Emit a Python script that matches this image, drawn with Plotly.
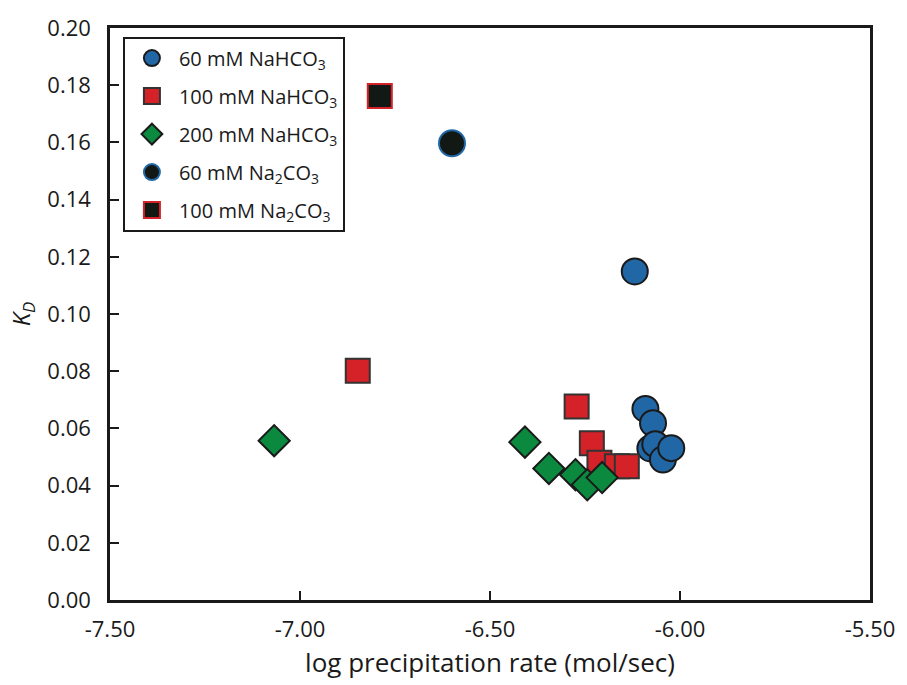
import plotly.graph_objects as go

# 60 mM NaHCO3
x60 = [-6.119, -6.091, -6.071, -6.078, -6.065, -6.045, -6.023]
y60 = [0.1149, 0.0668, 0.0618, 0.0530, 0.0545, 0.0491, 0.0531]
# 100 mM NaHCO3
x100 = [-6.848, -6.272, -6.232, -6.212, -6.166, -6.140]
y100 = [0.0802, 0.0677, 0.0548, 0.0480, 0.0468, 0.0468]
# 200 mM NaHCO3
x200 = [-7.068, -6.408, -6.345, -6.275, -6.244, -6.205]
y200 = [0.0557, 0.0552, 0.0460, 0.0438, 0.0403, 0.0428]
# 60 mM Na2CO3
x60c = [-6.600]
y60c = [0.1597]
# 100 mM Na2CO3
x100c = [-6.790]
y100c = [0.1762]

names = ["60 mM NaHCO<sub>3</sub>", "100 mM NaHCO<sub>3</sub>", "200 mM NaHCO<sub>3</sub>",
         "60 mM Na<sub>2</sub>CO<sub>3</sub>", "100 mM Na<sub>2</sub>CO<sub>3</sub>"]
xticks = [-7.5, -7.0, -6.5, -6.0, -5.5]
xticklabels = ["-7.50", "-7.00", "-6.50", "-6.00", "-5.50"]
yticks = [0.00, 0.02, 0.04, 0.06, 0.08, 0.10, 0.12, 0.14, 0.16, 0.18, 0.20]
yticklabels = ["%.2f" % v for v in yticks]

BLUE = "#2167A6"
RED = "#D52228"
GREEN = "#0B8A3F"
BLACK = "#121813"
EDGE = "#1a1a1a"

fig = go.Figure()
specs = [
    (x60, y60, names[0], "circle", 26, BLUE, EDGE),
    (x100, y100, names[1], "square", 24, RED, "#333333"),
    (x200, y200, names[2], "diamond", 24, GREEN, EDGE),
    (x60c, y60c, names[3], "circle", 26, BLACK, BLUE),
    (x100c, y100c, names[4], "square", 24, BLACK, RED),
]
for i, (xs, ys, nm, sym, sz, fc, lc) in enumerate(specs):
    fig.add_trace(go.Scatter(
        x=xs, y=ys, mode="markers", name=nm, legendgroup="g%d" % i,
        marker=dict(symbol=sym, size=sz, color=fc, line=dict(color=lc, width=2)),
    ))

font = "Open Sans, Noto Sans, sans-serif"
fig.update_layout(
    width=907, height=685,
    margin=dict(l=110, r=26, t=17, b=83),
    paper_bgcolor="white", plot_bgcolor="white",
    font=dict(family=font, size=22, color="#1a1a1a"),
    showlegend=True,
    legend=dict(
        x=0.017, y=0.985, xanchor="left", yanchor="top",
        bordercolor="#1a1a1a", borderwidth=2, bgcolor="white",
        font=dict(size=20, family=font, color="#1a1a1a"),
        traceorder="grouped", tracegroupgap=9,
        itemsizing="trace", itemwidth=44,
        entrywidth=175, entrywidthmode="pixels",
    ),
    xaxis=dict(
        range=[-7.5, -5.5], tickvals=xticks, ticktext=xticklabels,
        ticks="inside", ticklen=9, tickwidth=2, tickcolor="#1a1a1a",
        showline=True, linewidth=2.5, linecolor="#1a1a1a", mirror=True,
        showgrid=False, zeroline=False, ticklabelstandoff=8,
        tickfont=dict(size=22),
        title=dict(text="log precipitation rate (mol/sec)", font=dict(size=26), standoff=12),
    ),
    yaxis=dict(
        range=[0, 0.2], tickvals=yticks, ticktext=yticklabels,
        ticks="inside", ticklen=9, tickwidth=2, tickcolor="#1a1a1a",
        showline=True, linewidth=2.5, linecolor="#1a1a1a", mirror=True,
        showgrid=False, zeroline=False, ticklabelstandoff=12,
        tickfont=dict(size=22),
        title=dict(text="<i>K</i><sub><i>D</i></sub>", font=dict(size=24), standoff=10),
    ),
)
fig.write_html("out.html")
